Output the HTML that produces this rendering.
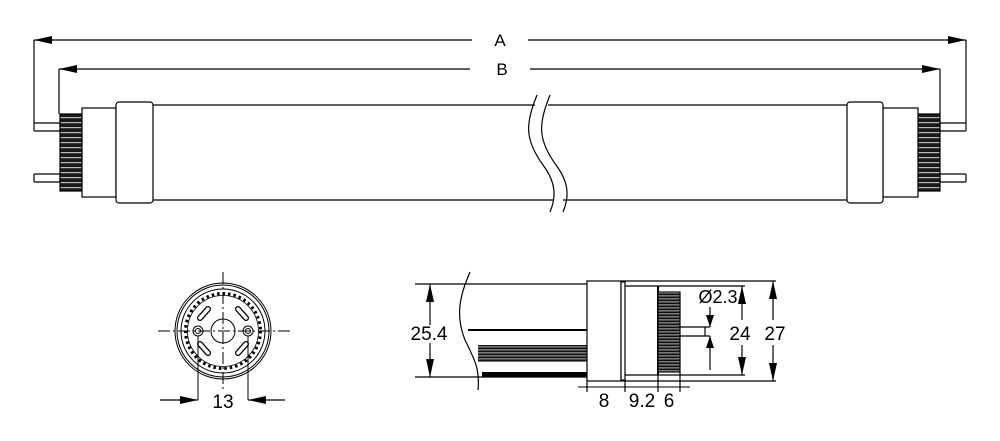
<!DOCTYPE html>
<html><head><meta charset="utf-8"><style>
html,body{margin:0;padding:0;background:#fff;width:1000px;height:441px;overflow:hidden}
svg{display:block}
text{font-family:"Liberation Sans",sans-serif;fill:#000}
</style></head><body>
<svg width="1000" height="441" viewBox="0 0 1000 441" xmlns="http://www.w3.org/2000/svg">
<defs>
<pattern id="kn" width="4" height="5" patternUnits="userSpaceOnUse">
<rect width="4" height="5" fill="#1a1a1a"/><rect y="2" width="4" height="1.2" fill="#bbb"/>
</pattern>
<pattern id="kn2" width="4" height="3" patternUnits="userSpaceOnUse">
<rect width="4" height="3" fill="#111"/><rect y="1.5" width="4" height="0.8" fill="#ddd"/>
</pattern>
<marker id="ar" markerWidth="18" markerHeight="8" refX="18" refY="4" orient="auto" markerUnits="userSpaceOnUse">
<path d="M0,0 L18,4 L0,8 Z" fill="#000"/>
</marker>
<marker id="ars" markerWidth="12" markerHeight="8" refX="12" refY="4" orient="auto" markerUnits="userSpaceOnUse">
<path d="M0,0 L12,4 L0,8 Z" fill="#000"/>
</marker>
</defs>
<g stroke="#000" stroke-width="1.2" fill="none">
<line x1="472" y1="40" x2="34" y2="40" marker-end="url(#ar)"/>
<line x1="528" y1="40" x2="966" y2="40" marker-end="url(#ar)"/>
<line x1="34" y1="40" x2="34" y2="123"/>
<line x1="966" y1="40" x2="966" y2="123"/>
<line x1="470" y1="69" x2="59" y2="69" marker-end="url(#ar)"/>
<line x1="530" y1="69" x2="940" y2="69" marker-end="url(#ar)"/>
<line x1="59" y1="69" x2="59" y2="114"/>
<line x1="940" y1="69" x2="940" y2="114"/>
<rect x="34" y="123" width="26" height="8" rx="1" fill="#fff"/>
<rect x="34" y="174" width="26" height="8" rx="1" fill="#fff"/>
<rect x="60" y="114" width="22" height="77" fill="url(#kn)"/>
<rect x="82" y="108" width="34" height="89" fill="#fff"/>
<rect x="116" y="102" width="37" height="101" rx="3" fill="#fff"/>
<rect x="940" y="123" width="26" height="8" rx="1" fill="#fff"/>
<rect x="940" y="174" width="26" height="8" rx="1" fill="#fff"/>
<rect x="918" y="114" width="22" height="77" fill="url(#kn)"/>
<rect x="883" y="108" width="35" height="89" fill="#fff"/>
<rect x="847" y="102" width="36" height="101" rx="3" fill="#fff"/>
<line x1="153" y1="105" x2="535" y2="105"/><line x1="548" y1="105" x2="847" y2="105"/>
<line x1="153" y1="200" x2="553" y2="200"/><line x1="563" y1="200" x2="847" y2="200"/>
<path d="M537,95 C525,125 525,140 543,165 C558,185 555,200 550,212"/>
<path d="M550,95 C538,125 538,140 556,165 C571,185 568,200 563,212"/>
<g stroke-width="1">
<line x1="158" y1="331" x2="290" y2="331" stroke-dasharray="12,3,2,3"/>
<line x1="223" y1="272" x2="223" y2="390" stroke-dasharray="12,3,2,3"/>
<circle cx="223" cy="331" r="48"/>
<circle cx="223" cy="331" r="46"/>
<circle cx="223" cy="331" r="42"/>
<circle cx="223" cy="331" r="37.5" stroke-dasharray="2.5,3" stroke-width="3"/>
<circle cx="223" cy="331" r="35.5" stroke-width="0.8"/>
<circle cx="223" cy="331" r="12"/>
<circle cx="198" cy="331" r="5"/><circle cx="198" cy="331" r="2.5"/>
<circle cx="248" cy="331" r="5"/><circle cx="248" cy="331" r="2.5"/>
<path d="M200,318 L208,309 M238,309 L246,318 M200,344 L208,353 M238,353 L246,344" stroke-width="6" stroke-linecap="round"/>
<path d="M200,318 L208,309 M238,309 L246,318 M200,344 L208,353 M238,353 L246,344" stroke-width="3.5" stroke="#fff" stroke-linecap="round"/>
<line x1="198" y1="336" x2="198" y2="400"/>
<line x1="248" y1="336" x2="248" y2="400"/>
</g>
<line x1="160" y1="400" x2="198" y2="400" marker-end="url(#ar)"/>
<line x1="285" y1="400" x2="248" y2="400" marker-end="url(#ar)"/>
<line x1="415" y1="284" x2="587" y2="284"/>
<line x1="415" y1="377" x2="587" y2="377"/>
<path d="M470,272 C460,295 455,315 465,340 C475,360 480,370 478,390"/>
<line x1="468" y1="330" x2="587" y2="330" stroke-width="2"/>
<rect x="478" y="345" width="109" height="17" fill="url(#kn2)" stroke="none"/>
<rect x="482" y="372" width="105" height="5" fill="#000" stroke="none"/>
<rect x="587" y="281" width="34" height="100" fill="#fff"/>
<rect x="621" y="282" width="4" height="98" fill="#fff"/>
<line x1="625" y1="286" x2="745" y2="286"/><line x1="625" y1="375" x2="745" y2="375"/>
<line x1="621" y1="281" x2="776" y2="281"/><line x1="621" y1="381" x2="776" y2="381"/>
<line x1="658" y1="286" x2="658" y2="375" stroke-width="2"/>
<rect x="658" y="292" width="22" height="80" fill="url(#kn2)"/>
<line x1="680" y1="327" x2="710" y2="327"/><line x1="680" y1="336" x2="710" y2="336"/>
<line x1="705" y1="327" x2="705" y2="336"/>
<line x1="430" y1="325" x2="430" y2="284" marker-end="url(#ar)"/>
<line x1="430" y1="343" x2="430" y2="377" marker-end="url(#ar)"/>
<line x1="773" y1="320" x2="773" y2="281" marker-end="url(#ar)"/>
<line x1="773" y1="345" x2="773" y2="381" marker-end="url(#ar)"/>
<line x1="742" y1="320" x2="742" y2="286" marker-end="url(#ar)"/>
<line x1="742" y1="345" x2="742" y2="375" marker-end="url(#ar)"/>
<line x1="710" y1="307" x2="710" y2="327" marker-end="url(#ars)"/>
<line x1="710" y1="370" x2="710" y2="336" marker-end="url(#ars)"/>
<line x1="587" y1="381" x2="587" y2="392"/><line x1="625" y1="380" x2="625" y2="392"/>
<line x1="658" y1="375" x2="658" y2="392"/><line x1="680" y1="372" x2="680" y2="392"/>
<line x1="578" y1="387" x2="690" y2="387" stroke-width="1"/>
</g>
<text x="500" y="46" font-size="17" text-anchor="middle">A</text>
<text x="502" y="75" font-size="17" text-anchor="middle">B</text>
<text x="223" y="408" font-size="19" text-anchor="middle">13</text>
<text x="429" y="340" font-size="19" text-anchor="middle">25.4</text>
<text x="740" y="340" font-size="19" text-anchor="middle">24</text>
<text x="775" y="340" font-size="19" text-anchor="middle">27</text>
<text x="718" y="303" font-size="18" text-anchor="middle">Ø2.3</text>
<text x="604" y="407" font-size="19" text-anchor="middle">8</text>
<text x="642" y="407" font-size="19" text-anchor="middle">9.2</text>
<text x="669" y="407" font-size="19" text-anchor="middle">6</text>
</svg>
</body></html>
